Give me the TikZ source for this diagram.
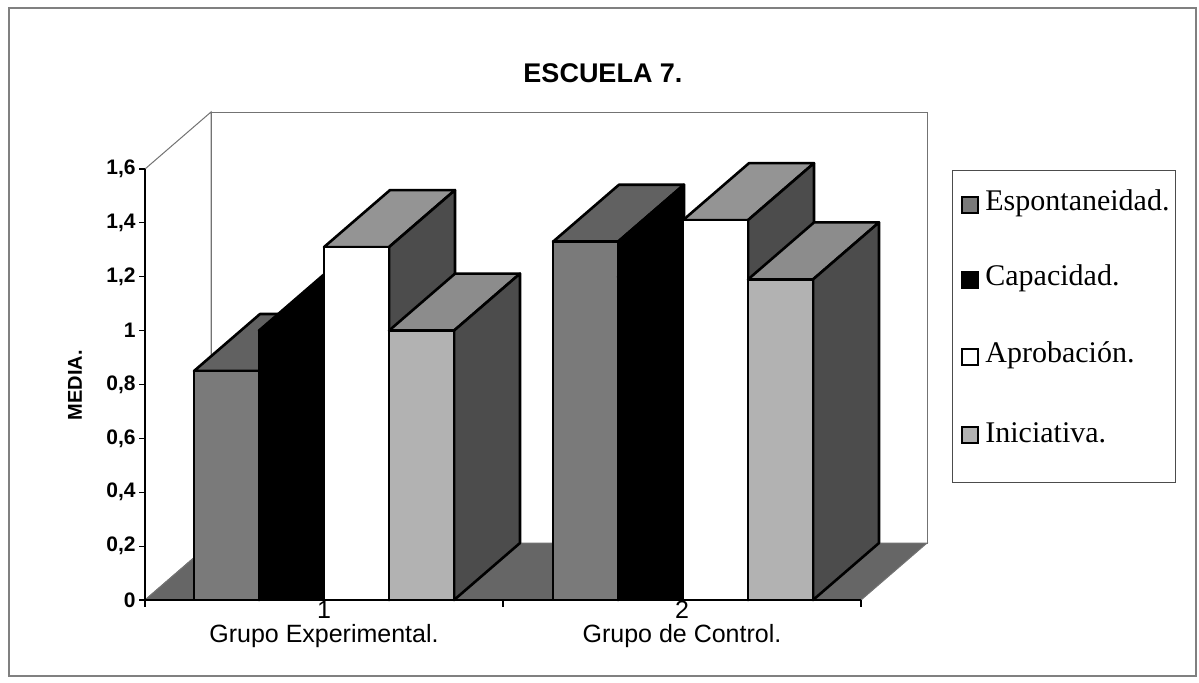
\documentclass[tikz,border=0pt]{standalone}
\usepackage{fontspec}
\setmainfont{Liberation Serif}
\newfontfamily\arial{Liberation Sans}

\newcommand{\saeule}[5]{%
	\pgfmathsetmacro{\obenY}{600-#2*269.4}
	\draw[kante,fill=#4] (#1,\obenY) -- ++(66,-57) -- ++(65,0) -- ++(-66,57) -- cycle;
	\draw[kante,fill=#5] (#1+65,\obenY) -- ++(66,-57) -- (#1+131,543) -- (#1+65,600) -- cycle;
	\draw[kante,fill=#3] (#1,600) rectangle (#1+65,\obenY);
}

\begin{document}
\begin{tikzpicture}[x=0.5pt,y=-0.5pt,
	kante/.style={draw=black,line width=1.3pt,line join=round},
	wand/.style={draw=black!55,line width=0.5pt},
	skala/.style={font=\arial\bfseries\fontsize{10.5}{12}\selectfont,anchor=east,inner sep=1pt},
	gruppe/.style={font=\arial\fontsize{12.5}{14}\selectfont,inner sep=0pt},
	marke/.style={draw=black,line width=0.7pt,minimum size=8pt,inner sep=0pt},
	eintrag/.style={font=\fontsize{15}{16}\selectfont,anchor=west,inner sep=0pt}]
		\useasboundingbox (0,0) rectangle (1199,682);
		\draw[black!50,line width=0.6pt] (9,8) rectangle (1196,676);
		
		\node[font=\arial\bfseries\fontsize{13.5}{15}\selectfont] at (603,73) (titel) {ESCUELA 7.};
		
		% Waende und Boden
		\draw[wand,fill=white] (145,169) -- (211,112) -- (211,543) -- (145,600) -- cycle;
		\draw[wand,fill=white] (211,112) rectangle (927,543);
		\draw[wand,fill=black!60] (145,600) -- (861,600) -- (927,543) -- (211,543) -- cycle;
		
		% Gruppe 1
		\saeule{194}{0.85}{black!52}{black!62}{black}
		\saeule{259}{1.0}{black}{black}{black}
		\saeule{324}{1.31}{white}{black!42}{black!70}
		\saeule{389}{1.0}{black!30}{black!45}{black!70}
		
		% Gruppe 2
		\saeule{553}{1.33}{black!52}{black!62}{black}
		\saeule{618}{1.2}{black}{black}{black}
		\saeule{683}{1.41}{white}{black!42}{black!70}
		\saeule{748}{1.19}{black!30}{black!45}{black!70}
		
		% Achsen
		\draw[line width=0.6pt] (145,169) -- (145,600) -- (861,600);
		\draw[line width=0.6pt] (145,600) -- (145,607);
		\draw[line width=0.6pt] (503,600) -- (503,607);
		\draw[line width=0.6pt] (861,600) -- (861,607);
		
		\draw[line width=0.6pt] (139,600) -- (145,600);
		\draw[line width=0.6pt] (139,546.1) -- (145,546.1);
		\draw[line width=0.6pt] (139,492.2) -- (145,492.2);
		\draw[line width=0.6pt] (139,438.4) -- (145,438.4);
		\draw[line width=0.6pt] (139,384.5) -- (145,384.5);
		\draw[line width=0.6pt] (139,330.6) -- (145,330.6);
		\draw[line width=0.6pt] (139,276.7) -- (145,276.7);
		\draw[line width=0.6pt] (139,222.8) -- (145,222.8);
		\draw[line width=0.6pt] (139,169) -- (145,169);
		
		\node[skala] at (138,600) (w0) {0};
		\node[skala] at (138,546.1) (w1) {0,2};
		\node[skala] at (138,492.2) (w2) {0,4};
		\node[skala] at (138,438.4) (w3) {0,6};
		\node[skala] at (138,384.5) (w4) {0,8};
		\node[skala] at (138,330.6) (w5) {1};
		\node[skala] at (138,276.7) (w6) {1,2};
		\node[skala] at (138,222.8) (w7) {1,4};
		\node[skala] at (138,169) (w8) {1,6};
		
		\node[font=\arial\bfseries\fontsize{10}{11}\selectfont,rotate=90] at (75,385) (media) {MEDIA.};
		
		\node[gruppe] at (324,610) (nr1) {1};
		\node[gruppe] at (324,636) (gruppe1) {Grupo Experimental.};
		\node[gruppe] at (682,610) (nr2) {2};
		\node[gruppe] at (682,636) (gruppe2) {Grupo de Control.};
		
		% Legende
		\draw[black!70,line width=0.5pt] (952,170) rectangle (1175,482);
		\node[marke,fill=black!52] at (970,205) (m1) {};
		\node[marke,fill=black] at (970,280) (m2) {};
		\node[marke,fill=white] at (970,357) (m3) {};
		\node[marke,fill=black!30] at (970,435) (m4) {};
		\node[eintrag] at (985,203) (leg1) {Espontaneidad.};
		\node[eintrag] at (985,278) (leg2) {Capacidad.};
		\node[eintrag] at (985,355) (leg3) {Aprobación.};
		\node[eintrag] at (985,433) (leg4) {Iniciativa.};
\end{tikzpicture}
\end{document}
